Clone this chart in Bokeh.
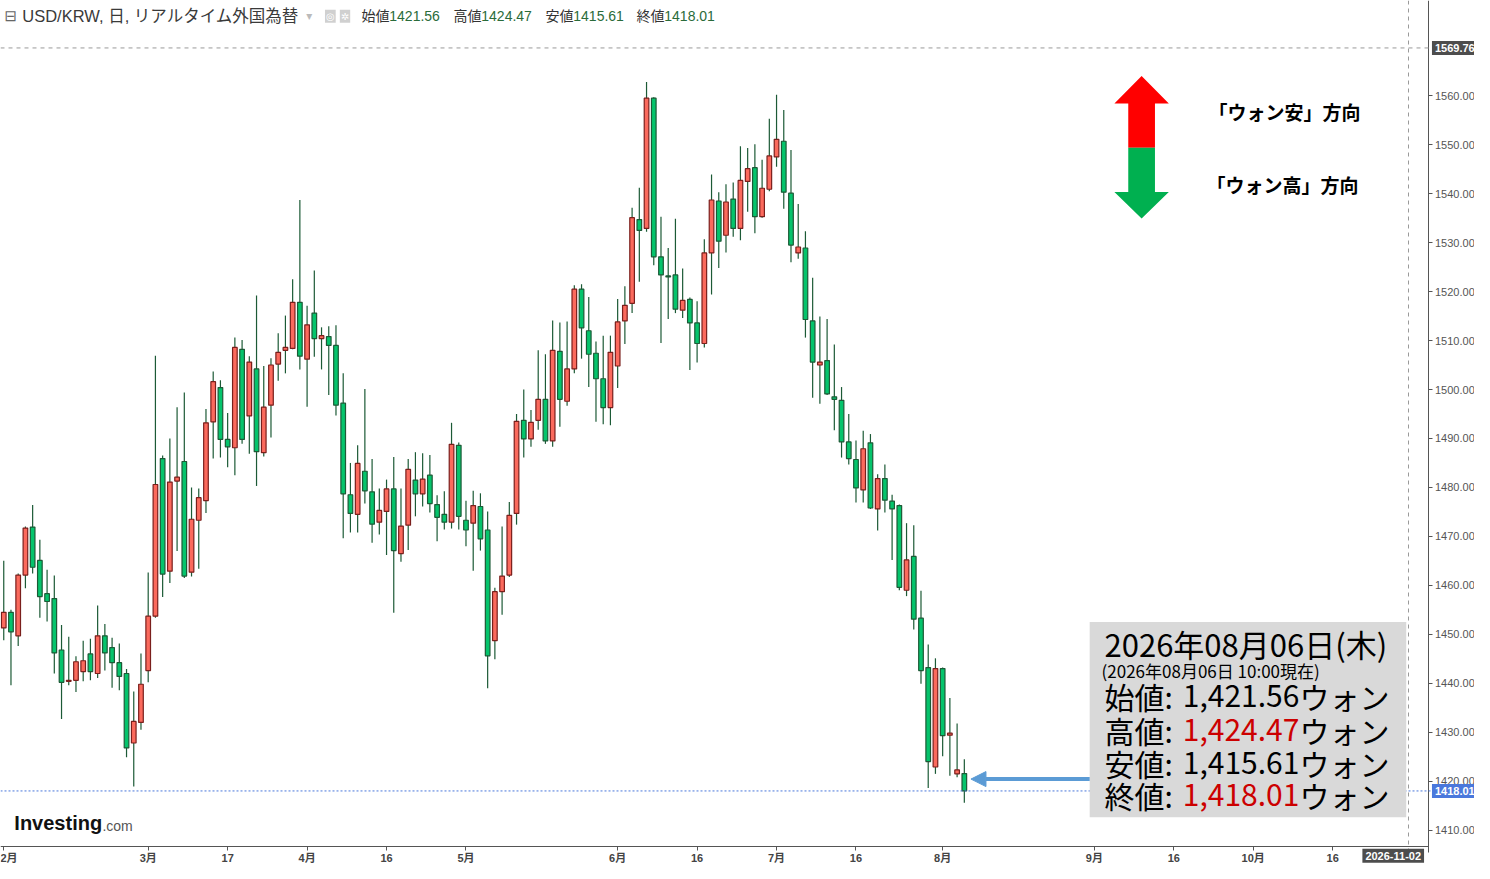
import pandas as pd
from bokeh.plotting import figure
from bokeh.models import (FixedTicker, PrintfTickFormatter, Span, Label, BoxAnnotation,
                          PolyAnnotation, Arrow, NormalHead, ColumnDataSource, Range1d)
from bokeh.embed import file_html
from bokeh.resources import INLINE

# ---------------- data (USD/KRW daily) ----------------
start_date = "2026-02-02"
open_ = [1451.3, 1454.5, 1449.7, 1462.1, 1471.9, 1465.1, 1458.3, 1457.3, 1446.8, 1440.4,
         1440.6, 1442.4, 1446.0, 1442.0, 1449.7, 1447.3, 1444.2, 1442.0, 1427.8, 1432.0,
         1442.6, 1453.7, 1485.9, 1462.9, 1481.3, 1485.3, 1462.7, 1473.3, 1477.3, 1493.4,
         1500.4, 1489.8, 1488.1, 1508.2, 1494.6, 1504.2, 1487.1, 1496.8, 1505.2, 1508.0,
         1508.4, 1517.8, 1506.2, 1515.6, 1510.4, 1510.8, 1509.0, 1497.2, 1478.5, 1474.5,
         1483.3, 1479.1, 1472.9, 1475.1, 1479.7, 1466.5, 1472.3, 1481.5, 1478.7, 1482.5,
         1476.5, 1474.5, 1472.9, 1488.6, 1473.3, 1472.7, 1476.1, 1471.3, 1448.7, 1458.7,
         1462.1, 1474.7, 1493.7, 1489.9, 1493.7, 1498.0, 1489.5, 1507.8, 1497.6, 1504.2,
         1520.5, 1512.0, 1507.4, 1502.2, 1496.3, 1504.8, 1514.0, 1517.6, 1534.7, 1532.9,
         1559.5, 1527.1, 1523.2, 1523.4, 1516.2, 1518.4, 1513.6, 1509.4, 1527.9, 1538.5,
         1531.5, 1538.9, 1532.9, 1542.5, 1545.3, 1535.3, 1540.9, 1547.5, 1550.7, 1540.1,
         1527.9, 1528.9, 1514.0, 1505.0, 1505.9, 1498.5, 1497.8, 1489.3, 1485.7, 1479.5,
         1489.1, 1475.6, 1481.8, 1477.2, 1476.3, 1459.0, 1465.9, 1453.3, 1443.2, 1422.9,
         1443.0, 1429.4, 1421.5, 1421.56]
high = [1465.0, 1455.0, 1462.4, 1472.0, 1476.4, 1469.3, 1463.2, 1462.0, 1451.9, 1449.5,
        1445.5, 1448.7, 1449.1, 1455.9, 1452.1, 1449.3, 1448.1, 1442.9, 1438.3, 1446.1,
        1462.6, 1506.9, 1486.5, 1490.0, 1496.4, 1499.4, 1480.0, 1479.8, 1496.0, 1503.7,
        1501.9, 1495.2, 1510.6, 1510.1, 1506.8, 1519.2, 1504.8, 1506.4, 1511.5, 1515.1,
        1522.5, 1538.7, 1517.1, 1524.3, 1512.7, 1512.9, 1513.1, 1503.3, 1485.0, 1488.6,
        1500.1, 1485.8, 1479.8, 1481.6, 1486.2, 1479.8, 1485.8, 1487.2, 1487.0, 1486.6,
        1478.4, 1479.2, 1493.2, 1489.2, 1477.3, 1479.3, 1478.8, 1475.1, 1459.5, 1472.0,
        1477.0, 1495.0, 1500.0, 1495.8, 1508.0, 1507.2, 1514.1, 1513.7, 1513.9, 1521.3,
        1521.5, 1518.9, 1509.8, 1511.0, 1511.0, 1518.5, 1521.1, 1537.1, 1541.2, 1562.8,
        1559.7, 1535.3, 1528.9, 1534.9, 1524.7, 1518.8, 1518.0, 1530.7, 1543.9, 1540.3,
        1541.9, 1542.3, 1549.7, 1549.3, 1550.1, 1546.9, 1555.3, 1560.2, 1557.1, 1548.9,
        1537.9, 1532.3, 1522.8, 1514.9, 1514.4, 1509.2, 1500.5, 1495.0, 1489.6, 1491.6,
        1490.9, 1482.7, 1484.7, 1478.5, 1476.5, 1472.7, 1472.3, 1458.9, 1447.9, 1445.1,
        1443.2, 1437.0, 1431.8, 1424.47]
low = [1448.8, 1439.6, 1447.6, 1459.4, 1462.4, 1453.4, 1452.6, 1442.0, 1432.7, 1439.6,
       1438.2, 1440.4, 1440.6, 1441.1, 1442.6, 1439.1, 1438.6, 1424.9, 1418.9, 1430.5,
       1440.2, 1453.4, 1457.6, 1460.5, 1467.0, 1461.5, 1461.8, 1463.4, 1474.8, 1485.9,
       1486.1, 1484.1, 1482.5, 1488.9, 1486.9, 1480.3, 1486.3, 1490.2, 1501.8, 1503.3,
       1508.2, 1504.1, 1496.5, 1506.7, 1504.1, 1498.9, 1494.7, 1469.6, 1470.8, 1470.8,
       1476.7, 1468.7, 1470.4, 1466.2, 1454.4, 1464.8, 1467.2, 1474.1, 1476.1, 1474.9,
       1469.0, 1471.4, 1471.6, 1471.4, 1468.0, 1463.0, 1467.1, 1439.0, 1444.9, 1454.0,
       1461.7, 1472.4, 1486.1, 1488.3, 1491.8, 1488.9, 1488.3, 1492.4, 1496.7, 1503.3,
       1506.3, 1500.5, 1493.4, 1492.9, 1492.7, 1500.3, 1509.3, 1515.6, 1522.0, 1532.2,
       1525.4, 1509.5, 1514.4, 1515.6, 1514.6, 1504.0, 1505.5, 1508.6, 1519.4, 1524.8,
       1528.0, 1531.2, 1530.5, 1536.3, 1531.9, 1535.1, 1540.5, 1545.5, 1536.9, 1526.0,
       1526.7, 1510.6, 1498.3, 1497.1, 1498.9, 1491.7, 1486.1, 1484.7, 1476.9, 1476.9,
       1475.6, 1471.2, 1474.9, 1465.2, 1459.0, 1457.8, 1451.0, 1439.9, 1418.6, 1421.5,
       1425.1, 1421.1, 1420.8, 1415.61]
close = [1454.5, 1450.5, 1462.1, 1471.7, 1463.7, 1457.7, 1456.7, 1446.2, 1440.2, 1440.6,
         1444.4, 1444.6, 1442.4, 1449.7, 1446.2, 1444.2, 1441.4, 1426.8, 1432.2, 1439.8,
         1453.7, 1480.6, 1462.3, 1481.1, 1482.1, 1461.9, 1473.5, 1477.9, 1493.2, 1501.6,
         1489.8, 1488.3, 1508.6, 1489.8, 1505.6, 1487.3, 1496.4, 1505.0, 1507.6, 1508.6,
         1517.8, 1506.8, 1513.2, 1510.4, 1511.0, 1509.0, 1496.8, 1478.7, 1474.7, 1484.9,
         1479.3, 1472.5, 1475.3, 1479.7, 1467.1, 1472.1, 1483.7, 1478.7, 1481.7, 1476.7,
         1473.9, 1472.9, 1488.8, 1474.1, 1471.3, 1476.3, 1469.5, 1445.6, 1458.7, 1461.9,
         1474.3, 1493.5, 1489.9, 1493.3, 1498.0, 1489.5, 1508.0, 1498.0, 1504.2, 1520.5,
         1512.6, 1507.2, 1502.2, 1496.3, 1507.6, 1513.8, 1517.2, 1535.1, 1532.5, 1559.5,
         1527.1, 1523.4, 1523.0, 1516.4, 1518.2, 1513.6, 1509.4, 1527.9, 1538.7, 1530.3,
         1538.3, 1532.9, 1542.7, 1545.1, 1535.3, 1541.1, 1547.7, 1551.1, 1540.3, 1529.5,
         1529.1, 1514.3, 1505.6, 1505.6, 1499.1, 1498.0, 1489.3, 1485.9, 1479.9, 1487.9,
         1475.8, 1481.8, 1477.4, 1475.6, 1459.6, 1465.2, 1453.1, 1442.6, 1424.0, 1443.0,
         1429.3, 1429.8, 1422.3, 1418.01]

tick_dates = ["2026-02-02", "2026-03-02", "2026-03-17", "2026-04-01", "2026-04-16",
              "2026-05-01", "2026-06-01", "2026-06-16", "2026-07-01", "2026-07-16",
              "2026-08-03", "2026-09-01", "2026-09-16", "2026-10-01", "2026-10-16"]
tick_labels = ["2月", "3月", "17", "4月", "16", "5月", "6月", "16", "7月", "16",
               "8月", "9月", "16", "10月", "16"]
price_ticks = [1410, 1420, 1430, 1440, 1450, 1460, 1470, 1480, 1490, 1500,
               1510, 1520, 1530, 1540, 1550, 1560]
cursor_date = "2026-11-02"
cursor_price = 1569.76
weekday_names = ["月", "火", "水", "木", "金", "土", "日"]

# ---------------- layout helpers (reference-pixel -> data) ----------------
calendar = pd.bdate_range(start_date, cursor_date)
pos = {d.strftime("%Y-%m-%d"): i for i, d in enumerate(calendar)}
dates = calendar[:len(close)]

XA, XPP = -0.45, 197.65 / 1443.0      # index at left edge, index per reference pixel
YA, YPP = 1579.45, 172.85 / 862.0     # price at top edge, price per reference pixel


def X(px):
    return XA + XPP * px


def Y(py):
    return YA - YPP * py


JP = "'Noto Sans CJK JP'"
SANS = "'Liberation Sans', 'Noto Sans CJK JP'"

p = figure(width=1474, height=863, x_range=Range1d(X(0), X(1490)), y_range=Range1d(Y(879), Y(0)),
           y_axis_location="right", toolbar_location=None, output_backend="svg",
           min_border_left=0, min_border_top=0, min_border_right=0, min_border_bottom=0,
           background_fill_color="white", border_fill_color="white", outline_line_color=None)
p.xgrid.visible = False
p.ygrid.visible = False

# ---------------- crosshair / last price lines ----------------
p.add_layout(Span(location=pos[cursor_date] - 0.5, dimension="height", line_color="#9a9a9a",
                  line_dash="4 4", line_width=1))
p.add_layout(Span(location=cursor_price, dimension="width", line_color="#9a9a9a",
                  line_dash="4 4", line_width=1))
p.add_layout(Span(location=close[-1], dimension="width", line_color="#4a78dc",
                  line_dash="2 2", line_width=1))

# ---------------- candles ----------------
up_fill, up_line = "#fb6a5d", "#7a1f1c"
dn_fill, dn_line = "#05c46c", "#1c5a36"
src = ColumnDataSource(dict(
    x=list(range(len(close))),
    top=[max(o, c) for o, c in zip(open_, close)],
    bottom=[min(o, c) for o, c in zip(open_, close)],
    high=high, low=low,
    fill=[up_fill if c > o else dn_fill for o, c in zip(open_, close)],
    line=[up_line if c > o else dn_line for o, c in zip(open_, close)],
))
p.segment(x0="x", y0="high", x1="x", y1="low", source=src, line_color="#1c5a36", line_width=1.2)
p.vbar(x="x", width=0.64, top="top", bottom="bottom", fill_color="fill", line_color="line",
       line_width=1.2, source=src)

# ---------------- axes (drawn inside the full-canvas frame) ----------------
xa = p.xaxis[0]
tick_pos = [pos[d] for d in tick_dates]
xa.ticker = FixedTicker(ticks=tick_pos)
xa.major_label_overrides = {t: l for t, l in zip(tick_pos, tick_labels)}
xa.fixed_location = Y(862)
xa.bounds = (X(0), X(1443))
xa.axis_line_color = "#555555"
xa.major_tick_line_color = "#555555"
xa.major_tick_out = 4
xa.major_tick_in = 0
xa.minor_tick_out = 0
xa.minor_tick_in = 0
xa.major_label_standoff = 1
xa.major_label_text_font = "'Liberation Sans Narrow', 'Liberation Sans', 'Noto Sans CJK JP'"
xa.major_label_text_font_size = "11px"
xa.major_label_text_font_style = "bold"
xa.major_label_text_color = "#444444"

ya = p.yaxis[0]
ya.ticker = FixedTicker(ticks=price_ticks)
ya.formatter = PrintfTickFormatter(format="%.2f")
ya.fixed_location = X(1443)
ya.bounds = (Y(868), Y(0))
ya.axis_line_color = "#555555"
ya.major_tick_line_color = "#555555"
ya.major_tick_out = 4
ya.major_tick_in = 0
ya.minor_tick_out = 0
ya.minor_tick_in = 0
ya.major_label_standoff = 3
ya.major_label_text_font = "'Liberation Sans'"
ya.major_label_text_font_size = "11px"
ya.major_label_text_color = "#555555"


def lab(px, py, text, size, color="black", font=SANS, style="normal", align="left",
        bg=None, pad=0):
    kw = {}
    if bg is not None:
        kw = dict(background_fill_color=bg, background_fill_alpha=1.0, padding=pad)
    p.add_layout(Label(x=X(px), y=Y(py), text=text, text_font=font, text_font_size=size,
                       text_color=color, text_font_style=style, text_align=align,
                       text_baseline="middle", **kw))


# ---------------- info box ----------------
p.add_layout(BoxAnnotation(left=X(1101), right=X(1421), top=Y(633), bottom=Y(832),
                           fill_color="#d9d9d9", fill_alpha=1.0, line_color=None))
last = dates[-1]
lab(1116, 655, f"{last.year}年{last.month:02d}月{last.day:02d}日({weekday_names[last.weekday()]})",
    "31px", font=JP)
lab(1113, 682, f"({last.year}年{last.month:02d}月{last.day:02d}日 10:00現在)", "17px", font=JP)
rows = [("始値:", open_[-1], "black", 708), ("高値:", high[-1], "#cc0000", 743),
        ("安値:", low[-1], "black", 777), ("終値:", close[-1], "#cc0000", 809)]
for name, val, col, py in rows:
    lab(1116, py, name, "30px", font=JP)
    lab(1313, py, f"{val:,.2f}", "30px", color=col, font=JP, align="right")
    lab(1313, py, "ウォン", "30px", font=JP)

# ---------------- arrows ----------------
p.add_layout(Arrow(end=NormalHead(size=15, fill_color="#5b9bd5", line_color="#5b9bd5"),
                   x_start=X(1101), y_start=Y(793), x_end=X(981), y_end=Y(793),
                   line_color="#5b9bd5", line_width=4))
red_px = [(1153.5, 77), (1181, 105), (1167, 105), (1167, 150), (1140, 150), (1140, 105), (1126, 105)]
grn_px = [(1140, 150), (1167, 150), (1167, 195), (1181, 195), (1153.5, 222), (1126, 195), (1140, 195)]
p.add_layout(PolyAnnotation(xs=[X(a) for a, b in red_px], ys=[Y(b) for a, b in red_px],
                            fill_color="#ff0000", fill_alpha=1.0, line_color=None))
p.add_layout(PolyAnnotation(xs=[X(a) for a, b in grn_px], ys=[Y(b) for a, b in grn_px],
                            fill_color="#00b050", fill_alpha=1.0, line_color=None))
lab(1221, 113, "「ウォン安」方向", "19px", font=JP, style="bold")
lab(1219, 187, "「ウォン高」方向", "19px", font=JP, style="bold")

# ---------------- header ----------------
lab(4, 16, "⊟", "15px", color="#666666", font="'DejaVu Sans'")
lab(22, 16, "USD/KRW, 日, リアルタイム外国為替", "16.5px", color="#3a3a3a")
lab(309, 16, "▾", "12px", color="#bbbbbb", font="'DejaVu Sans'")
lab(328, 16, "◎", "10px", color="white", font="'DejaVu Sans'", bg="#d0d0d0", pad=1)
lab(343, 16, "✲", "10px", color="white", font="'DejaVu Sans'", bg="#d0d0d0", pad=1)
hdr = [("始値", open_[-1], 365), ("高値", high[-1], 458), ("安値", low[-1], 551), ("終値", close[-1], 643)]
for name, val, px in hdr:
    lab(px, 16, name, "14px", color="#333333")
    lab(px + 28, 16, f"{val:.2f}", "14px", color="#2a6b3a")

# ---------------- logo ----------------
lab(14, 838, "Investing", "20px", color="#111111", style="bold")
lab(103, 841, ".com", "14px", color="#555555")

# ---------------- axis value boxes ----------------
box_kw = dict(text_font=SANS, text_font_size="11px", text_font_style="bold", text_color="white",
              text_baseline="middle", background_fill_alpha=1.0, padding=3)
p.add_layout(Label(x=X(1447), y=cursor_price, text=f"{cursor_price:.2f}", text_align="left",
                   background_fill_color="#4d4d4d", **box_kw))
p.add_layout(Label(x=X(1447), y=close[-1], text=f"{close[-1]:.2f}", text_align="left",
                   background_fill_color="#4a78dc", **box_kw))
p.add_layout(Label(x=X(1439), y=Y(871), text=cursor_date, text_align="right",
                   background_fill_color="#4d4d4d", **box_kw))

open("out.html", "w").write(file_html(p, INLINE))
